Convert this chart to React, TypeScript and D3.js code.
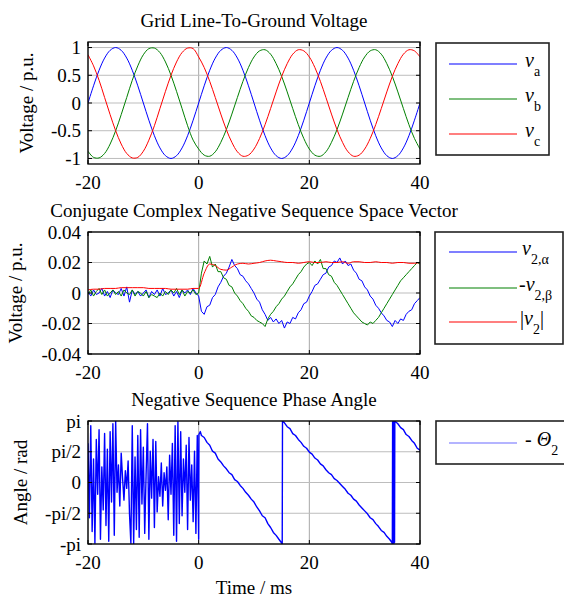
import React from "react";
import * as d3 from "d3";

const FONT = "'Liberation Serif', 'Times New Roman', serif";

// panel 1: line-to-ground voltages sampled every 1 ms, -20..40
const voltTime = d3.range(-20, 40.001, 1);
const va = [
  0, 0.31, 0.59, 0.81, 0.95, 1, 0.95, 0.81, 0.59, 0.31, 0, -0.31, -0.59, -0.81, -0.95, -1, -0.95, -0.81, -0.59, -0.31,
  0, 0.31, 0.59, 0.81, 0.95, 1, 0.95, 0.81, 0.59, 0.31, 0, -0.31, -0.59, -0.81, -0.95, -1, -0.95, -0.81, -0.59, -0.31,
  0, 0.31, 0.59, 0.81, 0.95, 1, 0.95, 0.81, 0.59, 0.31, 0, -0.31, -0.59, -0.81, -0.95, -1, -0.95, -0.81, -0.59, -0.31,
  0,
];
const vb = [
  -0.87, -0.98, -0.99, -0.91, -0.74, -0.5, -0.21, 0.1, 0.41, 0.67, 0.87, 0.98, 0.99, 0.91, 0.74, 0.5, 0.21, -0.1, -0.41, -0.67,
  -0.83, -0.94, -0.96, -0.88, -0.71, -0.48, -0.2, 0.1, 0.39, 0.64, 0.83, 0.94, 0.96, 0.88, 0.71, 0.48, 0.2, -0.1, -0.39, -0.64,
  -0.83, -0.94, -0.96, -0.88, -0.71, -0.48, -0.2, 0.1, 0.39, 0.64, 0.83, 0.94, 0.96, 0.88, 0.71, 0.48, 0.2, -0.1, -0.39, -0.64,
  -0.83,
];
const vc = [
  0.87, 0.67, 0.41, 0.1, -0.21, -0.5, -0.74, -0.91, -0.99, -0.98, -0.87, -0.67, -0.41, -0.1, 0.21, 0.5, 0.74, 0.91, 0.99, 0.98,
  0.83, 0.64, 0.39, 0.1, -0.2, -0.48, -0.71, -0.88, -0.96, -0.94, -0.83, -0.64, -0.39, -0.1, 0.2, 0.48, 0.71, 0.88, 0.96, 0.94,
  0.83, 0.64, 0.39, 0.1, -0.2, -0.48, -0.71, -0.88, -0.96, -0.94, -0.83, -0.64, -0.39, -0.1, 0.2, 0.48, 0.71, 0.88, 0.96, 0.94,
  0.83,
];

// panel 2: negative sequence components, every 0.5 ms
const seqTime = d3.range(-20, 40.001, 0.5);
const v2alpha = [
  0.001, -0.002, 0.002, -0.001, 0.0, 0.003, -0.002, 0.001, -0.003, 0.002,
  0.0, -0.001, 0.003, -0.002, 0.004, -0.006, 0.002, -0.001, 0.001, -0.002,
  0.0, 0.002, -0.003, 0.001, -0.001, 0.002, -0.002, 0.003, -0.001, 0.0,
  0.002, -0.002, 0.001, -0.003, 0.002, 0.0, 0.002, -0.001, 0.003, 0.0,
  -0.002,
  -0.012, -0.014, -0.009, -0.008, -0.003, -0.001, 0.004, 0.007, 0.011, 0.013,
  0.017, 0.022, 0.018, 0.016, 0.012, 0.011, 0.008, 0.006, 0.003, 0.0,
  -0.004, -0.006, -0.011, -0.014, -0.018, -0.016, -0.019, -0.017, -0.02, -0.018,
  -0.023, -0.019, -0.02, -0.016, -0.017, -0.013, -0.011, -0.007, -0.006, -0.002,
  0.001, 0.005, 0.006, 0.009, 0.012, 0.013, 0.017, 0.018, 0.021, 0.02,
  0.023, 0.019, 0.021, 0.018, 0.019, 0.015, 0.013, 0.009, 0.008, 0.004,
  0.002, -0.002, -0.004, -0.008, -0.01, -0.013, -0.015, -0.018, -0.019, -0.022,
  -0.018, -0.02, -0.017, -0.018, -0.014, -0.012, -0.011, -0.007, -0.005, -0.003,
];
const v2beta = [
  -0.001, 0.002, -0.002, 0.001, 0.003, -0.001, 0.002, -0.002, 0.0, 0.002,
  -0.001, 0.001, -0.002, 0.002, 0.0, -0.001, 0.002, -0.002, 0.001, 0.0,
  -0.002, 0.001, -0.003, -0.001, -0.002, -0.003, 0.0, -0.002, 0.001, -0.001,
  0.002, 0.0, 0.003, -0.001, 0.002, -0.002, 0.001, 0.0, 0.002, -0.001,
  0.0,
  0.013, 0.021, 0.019, 0.024, 0.017, 0.019, 0.014, 0.014, 0.01, 0.009,
  0.005, 0.004, 0.0, -0.002, -0.005, -0.007, -0.01, -0.012, -0.015, -0.016,
  -0.018, -0.019, -0.02, -0.022, -0.017, -0.014, -0.012, -0.009, -0.007, -0.004,
  -0.002, 0.001, 0.004, 0.006, 0.009, 0.012, 0.014, 0.017, 0.019, 0.02,
  0.018, 0.021, 0.019, 0.022, 0.016, 0.016, 0.012, 0.011, 0.007, 0.005,
  0.002, -0.001, -0.004, -0.007, -0.01, -0.013, -0.015, -0.017, -0.019, -0.02,
  -0.021, -0.019, -0.02, -0.018, -0.016, -0.013, -0.01, -0.007, -0.004, -0.001,
  0.002, 0.005, 0.008, 0.01, 0.012, 0.014, 0.016, 0.018, 0.02, 0.019,
];
// magnitude, every 1 ms
const v2mag = [
  0.002, 0.0025, 0.0025, 0.003, 0.003, 0.003, 0.0035, 0.0035, 0.0035, 0.0035,
  0.0035, 0.003, 0.003, 0.003, 0.003, 0.0025, 0.0025, 0.0025, 0.0025, 0.003,
  0.003,
  0.013, 0.019, 0.018, 0.0155, 0.015, 0.017, 0.019, 0.0195, 0.019, 0.0195,
  0.02, 0.021, 0.0215, 0.021, 0.0205, 0.02, 0.02, 0.0195, 0.02, 0.0205,
  0.02, 0.02, 0.0205, 0.02, 0.02, 0.0205, 0.0195, 0.0205, 0.0205, 0.02,
  0.02, 0.0205, 0.02, 0.02, 0.0195, 0.02, 0.02, 0.0195, 0.0195, 0.02,
];

// panel 3: phase angle
const phaseNoiseTime = d3.range(-20, 0.001, 0.25);
const phaseNoise = [
  2.0, -1.8, 2.9, -2.5, 1.2, -3.1, 2.2, -0.6, 2.7, -2.9,
  0.8, -1.4, 2.5, -2.2, 1.7, -3.0, 2.6, -1.0, 3.0, -2.7,
  3.14, -0.5, 0.9, -1.2, 1.5, 0.2, -0.9, 0.6, -0.3, 1.1,
  -1.6, -3.1, 2.9, -3.14, 1.3, -2.4, 2.4, -2.8, 2.7, -1.1,
  1.8, -2.6, 0.4, 3.0, -2.9, 1.6, -0.8, 2.2, -2.3, 2.1,
  -1.5, 0.3, -0.7, 1.0, -1.2, 0.5, -0.4, 0.8, -1.9, 1.4,
  -0.6, 2.0, -2.7, 2.9, -3.0, 3.1, -2.1, 2.6, -1.7, 1.2,
  -0.5, 1.9, -2.4, 2.3, -0.9, 0.9, -2.0, 1.6, -2.6, 2.4,
  -2.9,
];
const phaseTrackTime = [
  0.05, 0.3, 0.5, 1, 1.5, 2, 2.5, 3, 3.5, 4, 4.5, 5, 5.5, 6, 6.5, 7, 7.5, 8, 8.5, 9, 9.5, 10,
  10.5, 11, 11.5, 12, 12.5, 13, 13.5, 14, 14.5, 14.9, 15.1, 15.15, 15.5, 16, 16.5, 17, 17.5, 18,
  18.5, 19, 19.5, 20, 20.5, 21, 21.5, 22, 22.5, 23, 23.5, 24, 24.5, 25, 25.5, 26, 26.5, 27, 27.5,
  28, 28.5, 29, 29.5, 30, 30.5, 31, 31.5, 32, 32.5, 33, 33.5, 34, 34.5, 34.9, 35.0, 35.05, 35.1,
  35.15, 35.2, 35.25, 35.3, 35.35, 35.4, 35.45, 35.6, 36, 36.5, 37, 37.5, 38, 38.5, 39, 39.5, 40,
];
const phaseTrack = [
  2.45, 2.6, 2.4, 2.3, 2.05, 1.9, 1.6, 1.5, 1.2, 1.05, 0.85, 0.7, 0.5, 0.4, 0.15, 0.05, -0.15, -0.3, -0.5, -0.65, -0.85, -1.0,
  -1.25, -1.45, -1.7, -1.8, -2.1, -2.3, -2.55, -2.7, -2.9, -3.05, -3.14, 3.14, 3.05, 2.85, 2.75, 2.5, 2.4, 2.2,
  2.05, 1.85, 1.75, 1.55, 1.45, 1.25, 1.15, 0.95, 0.85, 0.65, 0.5, 0.4, 0.2, 0.1, -0.05, -0.2, -0.35, -0.55, -0.65,
  -0.85, -0.95, -1.15, -1.3, -1.45, -1.6, -1.8, -1.9, -2.1, -2.25, -2.45, -2.55, -2.75, -2.9, -3.05, -3.14, 3.1, -3.1,
  3.12, -3.0, 3.14, -3.1, 3.1, -3.05, 3.14, 3.1, 3.0, 2.8, 2.7, 2.45, 2.35, 2.15, 2.0, 1.75, 1.65,
];

const xTicks = [-20, 0, 20, 40];

const PL = 88;
const PR = 420;

type Series = { t: number[]; v: number[]; color: string; width?: number; curve?: d3.CurveFactory };

function Panel(props: {
  id: string;
  top: number;
  bottom: number;
  yDomain: [number, number];
  yTicks: number[];
  yTickLabels: string[];
  title: string;
  ylabel: string;
  ylabelX: number;
  series: Series[];
}) {
  const { id, top, bottom, yDomain, yTicks, yTickLabels, title, ylabel, ylabelX, series } = props;
  const x = d3.scaleLinear().domain([-20, 40]).range([PL, PR]);
  const y = d3.scaleLinear().domain(yDomain).range([bottom, top]);
  return (
    <g>
      <defs>
        <clipPath id={id}>
          <rect x={PL} y={top} width={PR - PL} height={bottom - top} />
        </clipPath>
      </defs>
      <rect x={PL} y={top} width={PR - PL} height={bottom - top} fill="#fff" />
      {xTicks.map((t) => (
        <line key={"gx" + t} x1={x(t)} x2={x(t)} y1={top} y2={bottom} stroke="#a8a8a8" strokeWidth={1} />
      ))}
      {yTicks.map((t) => (
        <line key={"gy" + t} x1={PL} x2={PR} y1={y(t)} y2={y(t)} stroke="#bdbdbd" strokeWidth={1} />
      ))}
      <g clipPath={`url(#${id})`}>
        {series.map((s, i) => {
          const pts = s.t.map((t, k) => [t, s.v[k]] as [number, number]);
          const line = d3
            .line<[number, number]>()
            .x((d) => x(d[0]))
            .y((d) => y(d[1]))
            .curve(s.curve || d3.curveLinear);
          return <path key={i} d={line(pts) || ""} fill="none" stroke={s.color} strokeWidth={s.width || 1} strokeLinejoin="round" />;
        })}
      </g>
      {xTicks.map((t) => (
        <g key={"tx" + t}>
          <line x1={x(t)} x2={x(t)} y1={bottom} y2={bottom - 4} stroke="#000" />
          <line x1={x(t)} x2={x(t)} y1={top} y2={top + 4} stroke="#000" />
          <text x={x(t)} y={bottom + 25} textAnchor="middle" fontSize={19} fontFamily={FONT}>
            {t}
          </text>
        </g>
      ))}
      {yTicks.map((t, i) => (
        <g key={"ty" + t}>
          <line x1={PL} x2={PL + 4} y1={y(t)} y2={y(t)} stroke="#000" />
          <line x1={PR} x2={PR - 4} y1={y(t)} y2={y(t)} stroke="#000" />
          <text x={81} y={y(t) + 6.5} textAnchor="end" fontSize={19} fontFamily={FONT}>
            {yTickLabels[i]}
          </text>
        </g>
      ))}
      <rect x={PL} y={top} width={PR - PL} height={bottom - top} fill="none" stroke="#000" strokeWidth={1.3} />
      <text x={(PL + PR) / 2} y={top - 15} textAnchor="middle" fontSize={19} fontFamily={FONT}>
        {title}
      </text>
      <text
        transform={`translate(${ylabelX},${(top + bottom) / 2}) rotate(-90)`}
        textAnchor="middle"
        fontSize={19}
        fontFamily={FONT}
      >
        {ylabel}
      </text>
    </g>
  );
}

function Legend(props: {
  x: number;
  y: number;
  w: number;
  h: number;
  items: { color: string; y: number; label: React.ReactNode; tx: number }[];
}) {
  const { x, y, w, h, items } = props;
  return (
    <g>
      <rect x={x} y={y} width={w} height={h} fill="#fff" stroke="#222" strokeWidth={1.6} />
      {items.map((it, i) => (
        <g key={i}>
          <line x1={449} x2={517} y1={it.y} y2={it.y} stroke={it.color} strokeWidth={1.2} />
          <text x={it.tx} y={it.y + 3} fontSize={20} fontFamily={FONT}>
            {it.label}
          </text>
        </g>
      ))}
    </g>
  );
}

const sub = (s: string) => (
  <tspan dy={9} fontSize={14}>
    {s}
  </tspan>
);

export default function App() {
  const piTicks = [-Math.PI, -Math.PI / 2, 0, Math.PI / 2, Math.PI];
  return (
    <svg width={564} height={597} style={{ position: "absolute", left: 0, top: 0, background: "#fff" }}>
      <Panel
        id="c1"
        top={42}
        bottom={164}
        yDomain={[-1.1, 1.1]}
        yTicks={[-1, -0.5, 0, 0.5, 1]}
        yTickLabels={["-1", "-0.5", "0", "0.5", "1"]}
        title="Grid Line-To-Ground Voltage"
        ylabel="Voltage / p.u."
        ylabelX={33}
        series={[
          { t: voltTime, v: va, color: "#0000ff", curve: d3.curveCatmullRom },
          { t: voltTime, v: vb, color: "#008000", curve: d3.curveCatmullRom },
          { t: voltTime, v: vc, color: "#ff0000", curve: d3.curveCatmullRom },
        ]}
      />
      <Panel
        id="c2"
        top={232}
        bottom={354}
        yDomain={[-0.04, 0.04]}
        yTicks={[-0.04, -0.02, 0, 0.02, 0.04]}
        yTickLabels={["-0.04", "-0.02", "0", "0.02", "0.04"]}
        title="Conjugate Complex Negative Sequence Space Vector"
        ylabel="Voltage / p.u."
        ylabelX={22}
        series={[
          { t: seqTime, v: v2alpha, color: "#0000ff" },
          { t: seqTime, v: v2beta, color: "#008000" },
          { t: voltTime, v: v2mag, color: "#ff0000", curve: d3.curveMonotoneX },
        ]}
      />
      <Panel
        id="c3"
        top={421}
        bottom={544}
        yDomain={[-Math.PI, Math.PI]}
        yTicks={piTicks}
        yTickLabels={["-pi", "-pi/2", "0", "pi/2", "pi"]}
        title="Negative Sequence Phase Angle"
        ylabel="Angle / rad"
        ylabelX={27}
        series={[
          {
            t: [...phaseNoiseTime, ...phaseTrackTime],
            v: [...phaseNoise, ...phaseTrack],
            color: "#0000ff",
            width: 1.4,
          },
        ]}
      />
      <text x={254} y={594} textAnchor="middle" fontSize={19} fontFamily={FONT}>
        Time / ms
      </text>

      <Legend
        x={436}
        y={43}
        w={113}
        h={112}
        items={[
          { color: "#0000ff", y: 64, tx: 525, label: <><tspan fontStyle="italic">v</tspan>{sub("a")}</> },
          { color: "#008000", y: 99, tx: 525, label: <><tspan fontStyle="italic">v</tspan>{sub("b")}</> },
          { color: "#ff0000", y: 134, tx: 525, label: <><tspan fontStyle="italic">v</tspan>{sub("c")}</> },
        ]}
      />
      <Legend
        x={435}
        y={232}
        w={128}
        h={112}
        items={[
          { color: "#0000ff", y: 252, tx: 522, label: <><tspan fontStyle="italic">v</tspan>{sub("2,α")}</> },
          { color: "#008000", y: 288, tx: 519, label: <>-<tspan fontStyle="italic">v</tspan>{sub("2,β")}</> },
          {
            color: "#ff0000",
            y: 322,
            tx: 520,
            label: (
              <>
                |<tspan fontStyle="italic">v</tspan>
                {sub("2")}
                <tspan dy={-9}>|</tspan>
              </>
            ),
          },
        ]}
      />
      <Legend
        x={436}
        y={421}
        w={140}
        h={43}
        items={[
          {
            color: "#6a6aff",
            y: 443,
            tx: 525,
            label: (
              <>
                - <tspan fontStyle="italic">Θ</tspan>
                {sub("2")}
              </>
            ),
          },
        ]}
      />
    </svg>
  );
}
